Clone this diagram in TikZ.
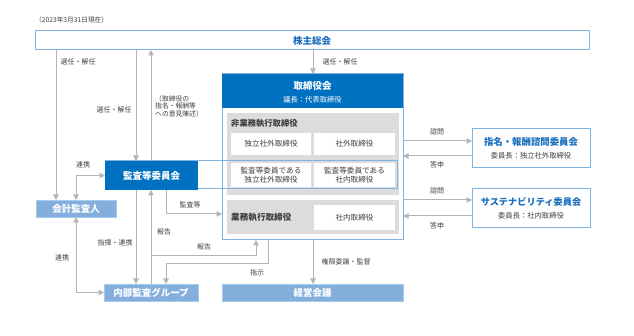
\documentclass[tikz,border=0pt]{standalone}
\usepackage{fontspec}
\setmainfont{Noto Sans CJK JP}
\usetikzlibrary{arrows.meta}
\definecolor{dblue}{HTML}{0071C1}
\definecolor{lblue}{HTML}{7FB3E3}
\definecolor{fblue}{HTML}{84AFDD}
\definecolor{tblue}{HTML}{1A6FBF}
\definecolor{gbox}{HTML}{DCDCDC}
\definecolor{gline}{HTML}{B4B4B4}
\definecolor{txt}{HTML}{404040}
\tikzset{
  bx/.style={anchor=north west, inner sep=0pt, outer sep=0pt},
  outl/.style={bx, draw=lblue, line width=1pt, fill=white},
  darkbx/.style={bx, fill=dblue, text=white, font=\bfseries\fontsize{9.5}{11}\selectfont},
  lightbx/.style={bx, fill=fblue, draw=lblue!70, line width=0.5pt, text=white, font=\bfseries\fontsize{9.5}{11}\selectfont},
  cell/.style={bx, fill=white, text=txt, align=center, font=\fontsize{7.6}{9}\selectfont},
  lbl/.style={text=txt, font=\fontsize{7}{8.5}\selectfont, inner sep=0pt},
  arr/.style={draw=gline, line width=1pt, -{Triangle[length=5.5pt,width=5.5pt]}},
  arrb/.style={draw=gline, line width=1pt, {Triangle[length=5.5pt,width=5.5pt]}-{Triangle[length=5.5pt,width=5.5pt]}},
}
\begin{document}
\begin{tikzpicture}[x=1pt,y=-1pt]
\useasboundingbox (0,0) rectangle (634,336);
% x/y helper coordinates
\coordinate (x56) at (56,0);
\coordinate (x76) at (76,0);
\coordinate (x136) at (136,0);
\coordinate (x151) at (151,0);
\coordinate (x166) at (166,0);
\coordinate (x256) at (256,0);
\coordinate (x268) at (268,0);
\coordinate (x313) at (313,0);
\coordinate (y141) at (0,141);
\coordinate (y156) at (0,156);
\coordinate (y200) at (0,200);
\coordinate (y216) at (0,216);
\coordinate (y214) at (0,214);
\coordinate (y256) at (0,256);
\coordinate (y264) at (0,264);

\node[lbl, anchor=west, font=\fontsize{6.7}{8}\selectfont] (date) at (35,20) {（2023年3月31日現在）};

% 株主総会
\node[outl, minimum width=554pt, minimum height=19pt, text=tblue, font=\bfseries\fontsize{9.5}{11}\selectfont] (kabu) at (35,31) {株主総会};

% 取締役会
\node[outl, minimum width=181pt, minimum height=166pt] (tori) at (222,74) {};
\node[bx, fill=dblue, minimum width=181pt, minimum height=34pt] (torihead) at (222,74) {};
\node[text=white, font=\bfseries\fontsize{9.5}{11}\selectfont, inner sep=0pt] (toriT) at (312.5,86) {取締役会};
\node[text=white, font=\fontsize{7.3}{9}\selectfont, inner sep=0pt] (toriS) at (312.5,99.5) {議長：代表取締役};

\node[bx, fill=gbox, minimum width=172pt, minimum height=82pt] (hig) at (227,113) {};
\node[anchor=west, text=txt, font=\bfseries\fontsize{8.3}{9}\selectfont, inner sep=0pt] (higT) at (231,123) {非業務執行取締役};
\node[cell, minimum width=80pt, minimum height=22pt] (c1) at (231,133) {独立社外取締役};
\node[cell, minimum width=81pt, minimum height=22pt] (c2) at (314,133) {社外取締役};
\node[cell, minimum width=80pt, minimum height=24pt] (c3) at (231,163) {監査等委員である\\独立社外取締役};
\node[cell, minimum width=81pt, minimum height=24pt] (c4) at (314,163) {監査等委員である\\社内取締役};

\node[bx, fill=gbox, minimum width=172pt, minimum height=34pt] (gyg) at (227,200) {};
\node[anchor=west, text=txt, font=\bfseries\fontsize{8.6}{9}\selectfont, inner sep=0pt] (gygT) at (231,217) {業務執行取締役};
\node[cell, minimum width=81pt, minimum height=25pt] (c5) at (314,205) {社内取締役};

% 監査等委員会
\node[bx, draw=lblue, line width=1pt, minimum width=292pt, minimum height=28pt] (kansaout) at (105,161) {};
\node[darkbx, minimum width=93pt, minimum height=29pt] (kansa) at (105,161) {監査等委員会};

% committees
\node[outl, minimum width=118pt, minimum height=39pt] (shimei) at (472,129) {};
\node[text=tblue, font=\bfseries\fontsize{9.4}{11}\selectfont, inner sep=0pt] (shimeiT) at (531,142) {指名・報酬諮問委員会};
\node[text=txt, font=\fontsize{7.3}{9}\selectfont, inner sep=0pt] (shimeiS) at (531,156) {委員長：独立社外取締役};
\node[outl, minimum width=118pt, minimum height=39pt] (sus) at (472,189) {};
\node[text=tblue, font=\bfseries\fontsize{9.2}{11}\selectfont, inner sep=0pt] (susT) at (531,202) {サステナビリティ委員会};
\node[text=txt, font=\fontsize{7.3}{9}\selectfont, inner sep=0pt] (susS) at (531,216) {委員長：社内取締役};

% light boxes
\node[lightbx, minimum width=80pt, minimum height=17pt] (kaikei) at (36,200) {会計監査人};
\node[lightbx, minimum width=94pt, minimum height=17pt] (naibu) at (104,284) {内部監査グループ};
\node[lightbx, minimum width=181pt, minimum height=17pt] (keiei) at (222,284) {経営会議};

% connectors
\draw[arr] (kabu.south -| x56) -- (kaikei.north -| x56);
\node[lbl] (l1) at (78,62) {選任・解任};
\draw[arr] (kabu.south -| x136) -- (kansa.north -| x136);
\node[lbl] (l2) at (114,110) {選任・解任};
\draw[arr] (kansa.north -| x151) -- (kabu.south -| x151);
\node[lbl, anchor=north west, align=left, font=\fontsize{6.8}{7.8}\selectfont] (l3) at (155,95) {（取締役の\\指名・報酬等\\への意見陳述）};
\draw[arr] (kabu.south -| x313) -- (tori.north -| x313);
\node[lbl] (l4) at (340,62) {選任・解任};

\draw[arrb] (kaikei.north -| x76) |- (kansa.west);
\node[lbl] (l5) at (83,165) {連携};

\draw[arr] (kansa.south -| x166) |- (tori.west |- y214);
\node[lbl] (l6) at (190,205) {監査等};

\draw[arr] (kansa.south -| x136) -- (naibu.north -| x136);
\node[lbl] (l7) at (115,243) {指揮・連携};
\draw[arr] (naibu.north -| x151) -- (kansa.south -| x151);
\node[lbl] (l8) at (164,232) {報告};
\draw[arr] (x151 |- y256) -| (tori.south -| x256);
\node[lbl] (l9) at (204,247) {報告};
\draw[arr] (tori.south -| x268) -- (x268 |- y264) -| (naibu.north -| x166);
\node[lbl] (l10) at (257,273) {指示};
\draw[arr] (tori.south -| x313) -- (keiei.north -| x313);
\node[lbl] (l11) at (346,262) {権限委譲・監督};

\draw[arrb] (kaikei.south -| x76) |- (naibu.west);
\node[lbl] (l12) at (62,258) {連携};

\draw[arr] (tori.east |- y141) -- (shimei.west |- y141);
\draw[arr] (shimei.west |- y156) -- (tori.east |- y156);
\node[lbl] (l13) at (437,132) {諮問};
\node[lbl] (l14) at (437,165) {答申};
\draw[arr] (tori.east |- y200) -- (sus.west |- y200);
\draw[arr] (sus.west |- y216) -- (tori.east |- y216);
\node[lbl] (l15) at (437,191) {諮問};
\node[lbl] (l16) at (437,226) {答申};
\end{tikzpicture}
\end{document}
